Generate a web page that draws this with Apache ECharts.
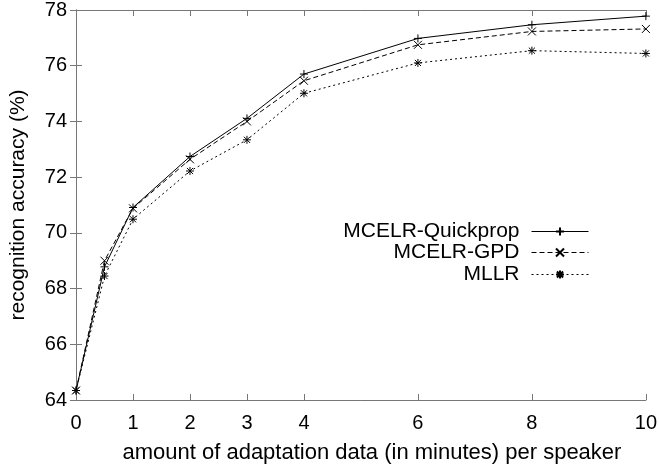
<!DOCTYPE html>
<html><head><meta charset="utf-8">
<script src="https://cdn.jsdelivr.net/npm/echarts@6/dist/echarts.min.js"></script>
<style>html,body{margin:0;padding:0;background:#fff}#c{width:660px;height:469px}</style>
</head><body><div id="c"></div>
<script>
const xValues = [0, 0.5, 1, 2, 3, 4, 6, 8, 10];
const quickprop = [64.34, 68.78, 70.91, 72.74, 74.11, 75.70, 76.98, 77.47, 77.78];
const gpd = [64.34, 69.0, 70.88, 72.64, 74.0, 75.46, 76.75, 77.23, 77.32];
const mllr = [64.34, 68.45, 70.49, 72.22, 73.34, 75.01, 76.10, 76.54, 76.44];
const xTicks = [0, 1, 2, 3, 4, 6, 8, 10];
const seriesNames = ['MCELR-Quickprop', 'MCELR-GPD', 'MLLR'];

const FONT = 'Liberation Sans';
const AX = '#777';
const plus = 'path://M0,-1L0,1M-1,0L1,0';
const cross = 'path://M-1,-1L1,1M-1,1L1,-1';
const star = 'path://M-1,-1L1,1M-1,1L1,-1M0,-1.3L0,1.3M-1.3,0L1.3,0';

function pairs(ys){ return xValues.map((x,i)=>[x, ys[i]]); }

const chart = echarts.init(document.getElementById('c'), null, {renderer:'canvas'});
const baseX = {
  type:'value', min:0, max:10, interval:1,
  axisLine:{show:true, lineStyle:{color:AX, width:1}},
  axisTick:{show:true, inside:true, length:6, lineStyle:{color:AX}, customValues:xTicks},
  splitLine:{show:false}
};
const baseY = {
  type:'value', min:64, max:78, interval:2,
  axisLine:{show:true, lineStyle:{color:AX, width:1}},
  axisTick:{show:true, inside:true, length:6, lineStyle:{color:AX}},
  splitLine:{show:false}
};
function mkSeries(name, data, sym, type){
  return {
    name, type:'line', data:pairs(data), symbol:sym, symbolSize:8, showSymbol:true,
    lineStyle:{color:'#000', width:1, type:type},
    itemStyle:{color:'#000', borderColor:'#000', borderWidth:1},
    emphasis:{disabled:true}, animation:false
  };
}
const legendTops = [221, 242, 264];
chart.setOption({
  animation:false,
  textStyle:{fontFamily:FONT},
  grid:{left:76, right:13, top:9, bottom:68},
  xAxis:[
    Object.assign({}, baseX, {position:'bottom',
      name:'amount of adaptation data (in minutes) per speaker', nameLocation:'middle', nameGap:42,
      nameTextStyle:{fontSize:22, color:'#000', fontFamily:FONT, padding:[0,0,0,22]},
      axisLabel:{show:true, customValues:xTicks, fontSize:20, color:'#000', fontFamily:FONT, margin:13}}),
    Object.assign({}, baseX, {position:'top', axisLabel:{show:false}})
  ],
  yAxis:[
    Object.assign({}, baseY, {position:'left',
      name:'recognition accuracy (%)', nameLocation:'middle', nameGap:47,
      nameTextStyle:{fontSize:21, color:'#000', fontFamily:FONT},
      axisLabel:{show:true, fontSize:20, color:'#000', fontFamily:FONT, margin:9}}),
    Object.assign({}, baseY, {position:'right', axisLabel:{show:false}})
  ],
  legend: seriesNames.map((n,i)=>({
    data:[n], orient:'vertical', align:'right', right:71, top:legendTops[i], padding:0,
    itemWidth:57, itemHeight:10, itemGap:0, selectedMode:false,
    lineStyle:{width:1},
    textStyle:{fontSize:21, color:'#000', fontFamily:FONT, padding:[0,7,0,0]}
  })),
  series:[
    mkSeries(seriesNames[0], quickprop, plus, 'solid'),
    mkSeries(seriesNames[1], gpd, cross, [5,3]),
    mkSeries(seriesNames[2], mllr, star, [2,3])
  ]
});
</script></body></html>
